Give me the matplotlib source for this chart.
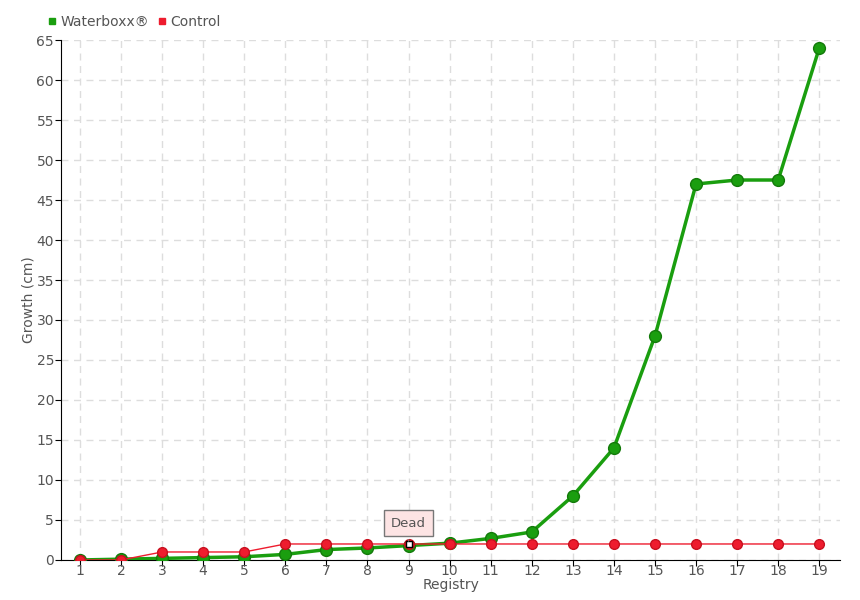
import matplotlib
matplotlib.use("Agg")
import matplotlib.pyplot as plt
from matplotlib.lines import Line2D
import numpy as np

registry = list(range(1, 20))
waterboxx = [0, 0.1, 0.2, 0.3, 0.4, 0.7, 1.3, 1.5, 1.8, 2.1, 2.7, 3.5, 8, 14, 28, 47, 47.5, 47.5, 64]
control = [0, 0, 1, 1, 1, 2, 2, 2, 2, 2, 2, 2, 2, 2, 2, 2, 2, 2, 2]
dead_at = 9

green = '#1a9e0f'
red = '#ee1c2e'
txt = '#555555'

plt.rcParams['font.family'] = ['DejaVu Sans']
fig = plt.figure(figsize=(8.6, 6), dpi=100)
ax = fig.add_axes([0.071, 0.0667, 0.906, 0.8666])

ax.plot(registry, waterboxx, '-', color='#7fd078', linewidth=1, zorder=3)
ax.plot(registry, waterboxx, '-', color=green, linewidth=2.5, zorder=3)
ax.plot(registry, waterboxx, 'o', color=green, markersize=8.5, markeredgecolor='#137a0a', zorder=4)
ax.plot(registry, control, '-', color=red, linewidth=1, zorder=5)
ax.plot(registry, control, 'o', color=red, markersize=7, markeredgecolor='#c8101f', zorder=6)

di = registry.index(dead_at)
ax.plot([dead_at], [control[di]], 's', color='white', markeredgecolor='black', markersize=5, markeredgewidth=1, zorder=8)
ax.annotate('Dead', xy=(dead_at, control[di]), xytext=(dead_at, control[di] + 2.6),
            ha='center', va='center', fontsize=9.5, color=txt, zorder=9,
            bbox=dict(boxstyle='square,pad=0.5', fc='#fde4e4', ec='#777777', lw=1),
            arrowprops=dict(arrowstyle='-', color='#777777', lw=0.8))

ax.set_xlim(0.54, 19.51)
ax.set_ylim(0, 65)
ax.set_xticks(registry)
ax.set_yticks(np.arange(0, 66, 5))
ax.grid(True, color='#dddddd', linestyle=(0, (5, 4)), linewidth=1)
ax.set_axisbelow(True)
for s in ['top', 'right']:
    ax.spines[s].set_visible(False)
ax.spines['left'].set_color('black')
ax.spines['bottom'].set_color('black')
ax.tick_params(axis='both', colors='black', labelcolor=txt, labelsize=10, length=4, direction='out', pad=1)
ax.tick_params(axis='x', pad=-1)
ax.set_xlabel('Registry', color=txt, fontsize=10, labelpad=0)
ax.set_ylabel('Growth (cm)', color=txt, fontsize=10, labelpad=1)

handles = [Line2D([], [], marker='s', linestyle='none', color=green, markersize=5),
           Line2D([], [], marker='s', linestyle='none', color=red, markersize=5)]
leg = fig.legend(handles, ['Waterboxx\u00ae', 'Control'], loc='center left',
                 bbox_to_anchor=(0.048, 0.963), ncol=2, frameon=False, fontsize=10,
                 handlelength=0.6, handletextpad=0.3, columnspacing=0.6, borderpad=0)
for t in leg.get_texts():
    t.set_color(txt)

fig.savefig('out.png', dpi=100)
